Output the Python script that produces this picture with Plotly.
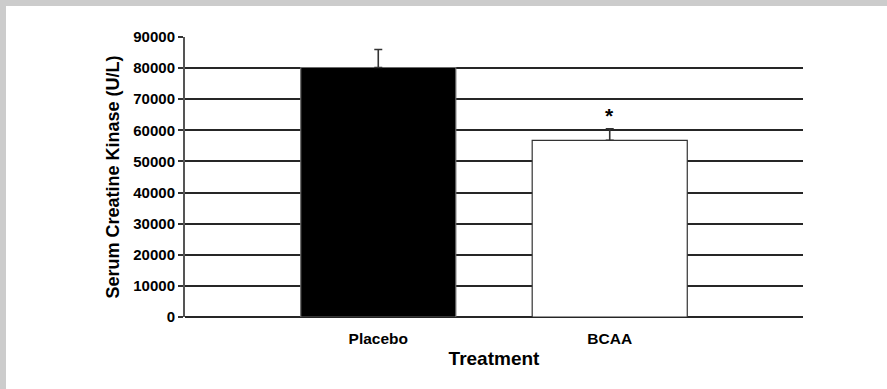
import plotly.graph_objects as go

# Serum creatine kinase by treatment group (mean ± SE)
treatments = ["Placebo", "BCAA"]
ck_mean = [80200, 56800]
ck_err = [5800, 3700]
bar_colors = ["#000000", "#ffffff"]
y_ticks = [0, 10000, 20000, 30000, 40000, 50000, 60000, 70000, 80000, 90000]

W, H = 887, 389
L, R, T, B = 185, 84, 37, 72
pw, ph = W - L - R, H - T - B

fig = go.Figure()
fig.add_trace(go.Bar(
    x=treatments,
    y=ck_mean,
    width=0.67,
    marker=dict(color=bar_colors, line=dict(color=["#6a6a6a", "#333333"], width=1.2)),
    error_y=dict(type="data", array=ck_err, symmetric=False, arrayminus=[0, 0],
                 color="#333333", thickness=1.6, width=4),
    showlegend=False,
))

# significance marker over the BCAA bar
fig.add_annotation(x="BCAA", y=ck_mean[1] + ck_err[1], text="<b>*</b>",
                   showarrow=False, yanchor="bottom", yshift=0,
                   font=dict(size=21, color="#000000", family="Liberation Sans, Arial"))

# light grey frame along the top and left edges
px = lambda x: (x - L) / pw
py = lambda y: (H - B - y) / ph
fig.add_shape(type="rect", xref="paper", yref="paper", layer="below",
              x0=px(6), x1=px(W + 5), y0=py(H + 5), y1=py(6),
              fillcolor="#ffffff", line=dict(width=0))

fig.update_layout(
    width=W, height=H,
    margin=dict(l=L, r=R, t=T, b=B, pad=0),
    paper_bgcolor="#cccccc",
    plot_bgcolor="rgba(0,0,0,0)",
    font=dict(family="Liberation Sans, Arial", color="#000000"),
    xaxis=dict(
        range=[-0.835, 1.835],
        showgrid=False, zeroline=False, showline=False,
        ticks="", tickfont=dict(size=15.5, family="Liberation Sans, Arial"),
        ticklabelstandoff=10,
        tickprefix="<b>", ticksuffix="</b>",
        title=dict(text="<b>Treatment</b>", font=dict(size=19), standoff=6),
    ),
    yaxis=dict(
        range=[0, 90000],
        tickvals=y_ticks,
        ticktext=[f"<b>{v}</b>" for v in y_ticks],
        tickfont=dict(size=15, family="Liberation Sans, Arial"),
        showgrid=True, gridcolor="#262626", gridwidth=1.5,
        zeroline=True, zerolinecolor="#262626", zerolinewidth=2,
        showline=True, linecolor="#555555", linewidth=2,
        ticks="outside", ticklen=5, tickcolor="#333333", tickwidth=1.5,
        title=dict(text="<b>Serum Creatine Kinase (U/L)</b>", font=dict(size=18), standoff=9),
    ),
)

fig.write_html("out.html")
